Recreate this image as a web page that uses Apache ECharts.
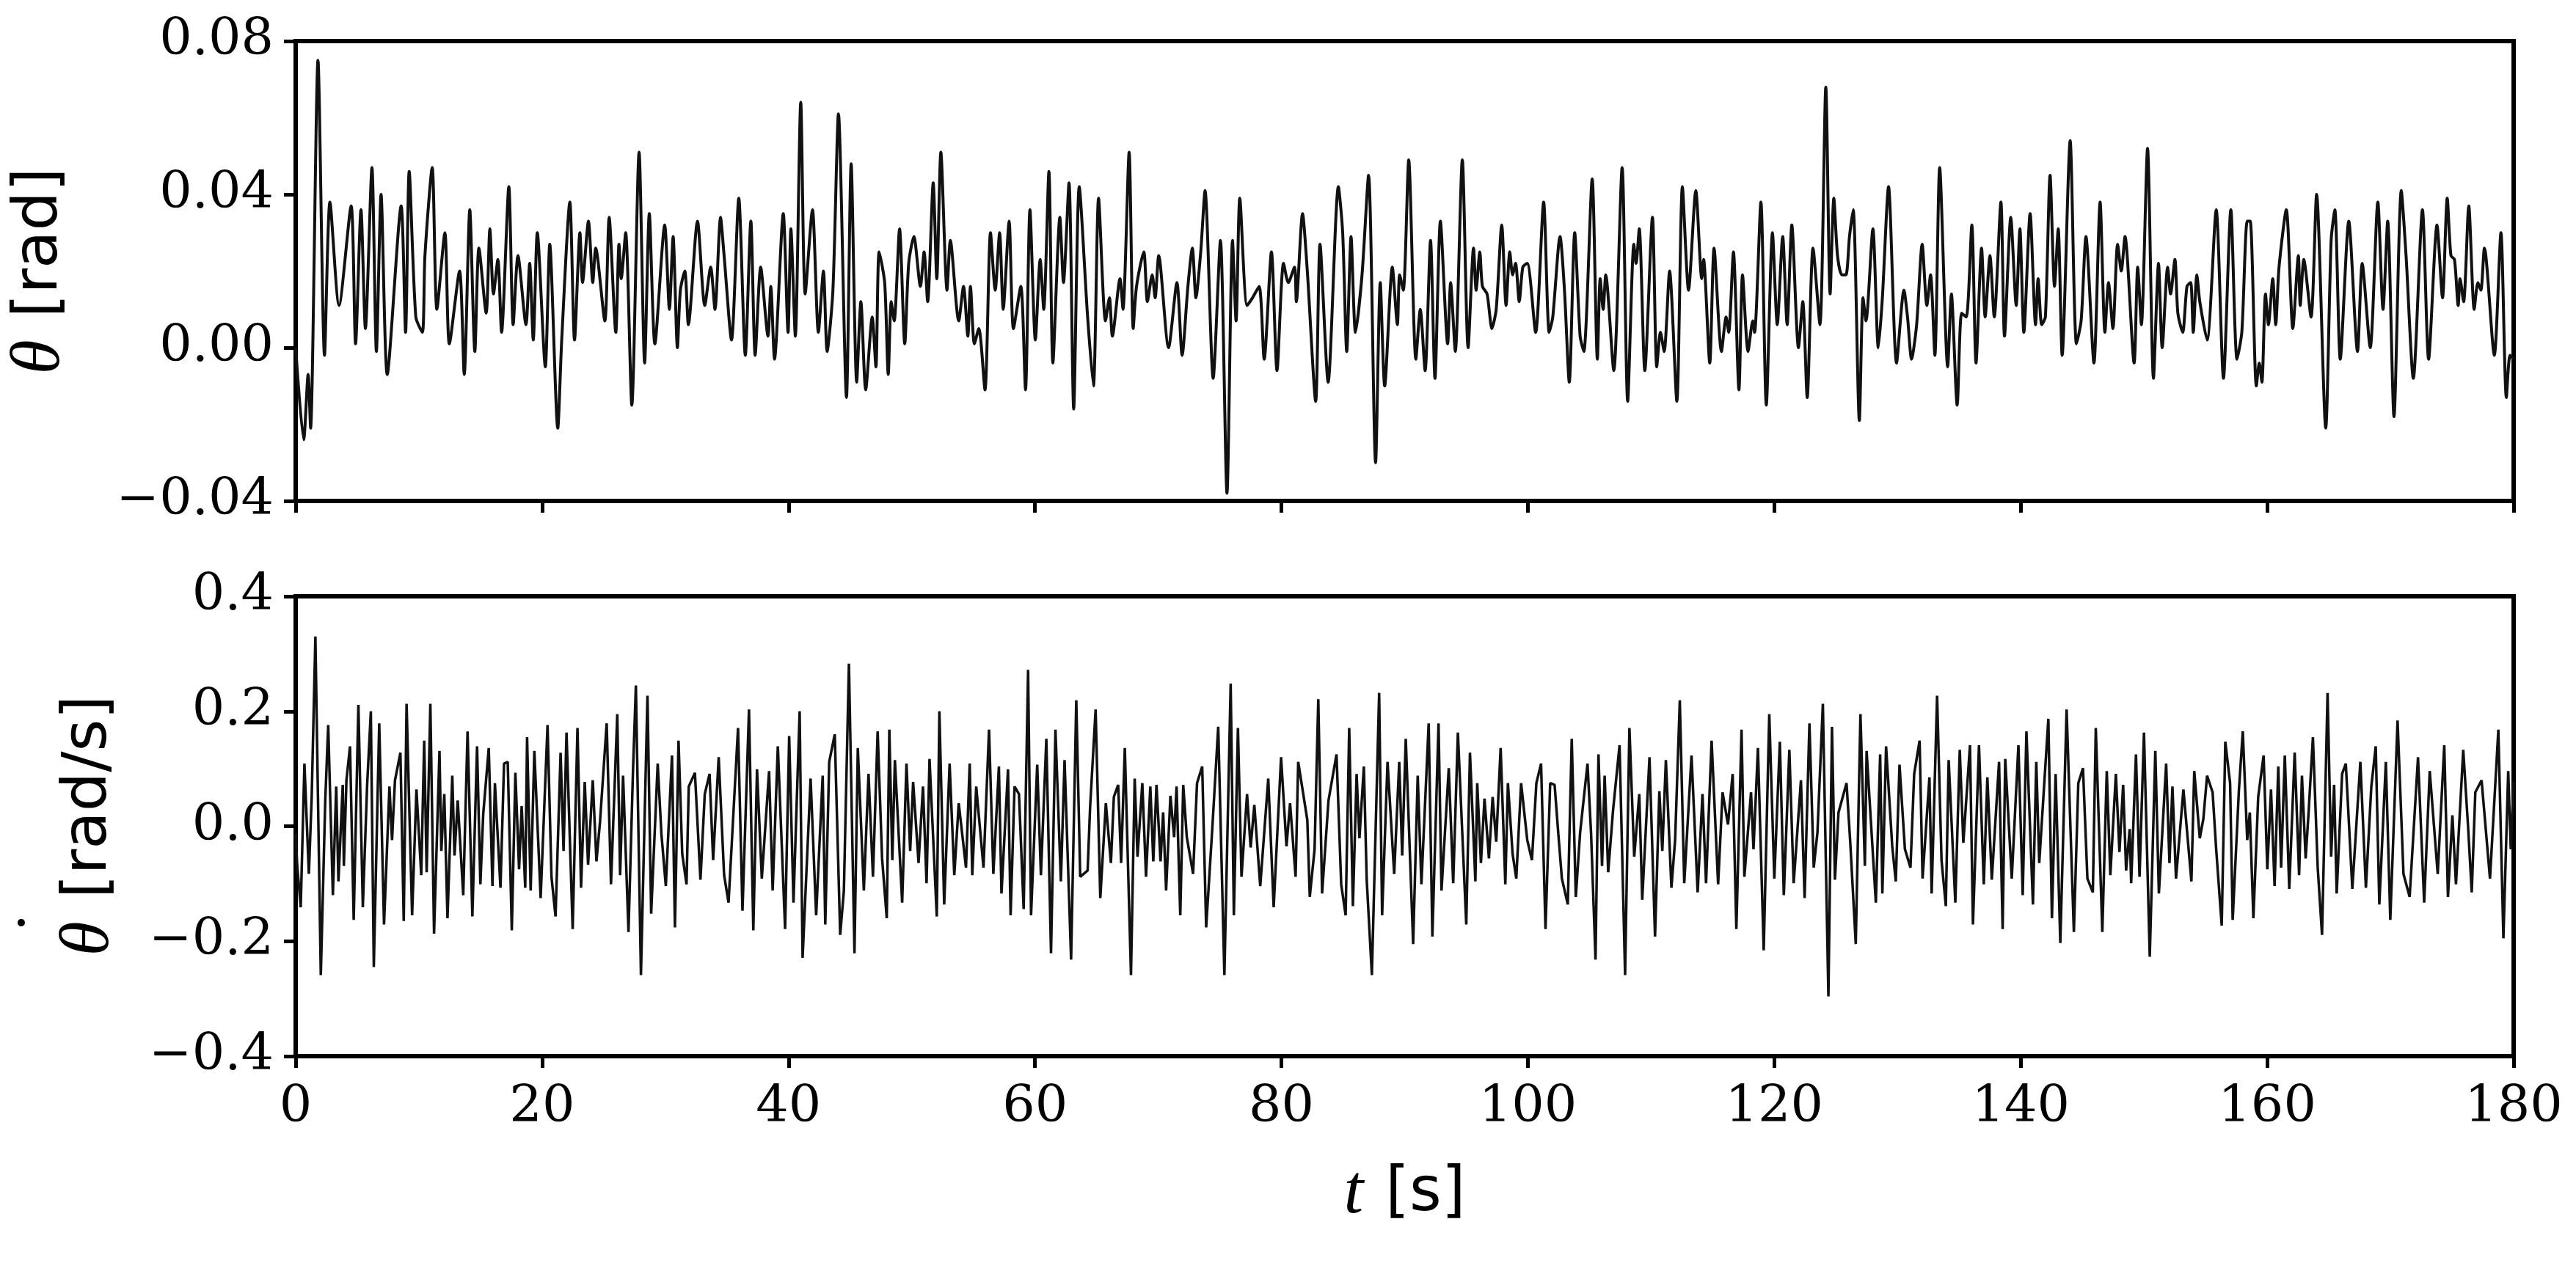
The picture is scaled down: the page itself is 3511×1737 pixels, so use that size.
<!DOCTYPE html>
<html>
<head>
<meta charset="utf-8">
<script src="https://cdn.jsdelivr.net/npm/echarts@6/dist/echarts.min.js"></script>
<style>
  html, body { margin: 0; padding: 0; background: #fff; }
  #chart1 { width: 3511px; height: 1737px; }
</style>
</head>
<body>
<div id="chart1"></div>
<script>
// theta [rad] vs t [s]
var thetaT = [0,0.65,1.01,1.21,1.81,2.34,2.78,3.52,4.50,4.86,5.30,5.66,6.19,6.55,6.93,7.43,8.56,8.92,9.21,9.75,10.28,10.49,11.08,11.46,12.11,12.47,13.30,13.68,14.13,14.54,14.87,15.46,15.76,16.05,16.41,16.71,17.30,17.65,18.04,18.69,18.99,19.28,19.61,20.26,20.62,21.27,21.59,22.25,22.63,23.07,23.28,23.76,24.11,24.35,25.09,25.44,25.98,26.24,26.42,26.78,27.28,27.87,28.32,28.70,29.15,29.95,30.33,30.63,30.98,31.22,31.58,31.87,32.61,33.20,33.68,34.03,34.48,34.77,35.37,35.96,36.49,36.94,37.29,37.74,38.33,38.56,38.86,39.57,39.96,40.19,40.55,40.99,41.35,41.94,42.42,42.83,43.13,43.60,44.05,44.70,45.08,45.53,
  45.87,46.26,46.79,47.09,47.35,47.80,48.09,48.33,48.57,49.01,49.43,49.75,50.17,50.70,51.0,51.29,51.74,52.03,52.36,52.86,53.13,53.81,54.2,54.55,54.76,55.08,55.44,55.94,56.39,56.77,57.13,57.42,57.9,58.25,58.85,59.23,59.59,60.03,60.42,60.71,61.13,61.45,62.02,62.31,62.76,63.14,63.59,64.27,64.74,65.16,65.72,66.04,66.28,66.9,67.14,67.64,67.97,68.24,68.83,69.12,69.51,69.75,70.04,70.84,71.52,71.94,72.41,72.77,73.06,73.45,73.8,74.46,75.05,75.58,76.03,76.32,76.62,77.21,77.65,78.19,78.6,79.19,79.64,80.17,80.56,81.06,81.21,81.71,82.1,82.78,83.13,83.79,84.62,84.97,85.3,85.65,86.01,86.54,87.07,87.64,88.02,88.38,89.0,89.41,89.59,89.89,90.33,
  90.91,91.27,91.66,92.1,92.46,92.9,93.49,93.73,94.11,94.68,95.15,95.59,95.8,96.1,96.31,96.69,97.08,97.43,97.88,98.23,98.53,98.76,99.0,99.3,99.59,99.95,100.63,101.28,101.73,102.02,102.61,102.97,103.36,103.8,104.24,104.54,105.22,105.64,105.87,106.11,106.32,106.97,107.65,108.1,108.6,108.78,109.04,109.49,110.11,110.46,110.76,111.06,111.5,112.09,112.54,113.04,113.63,114.11,114.26,114.76,115.11,115.71,116.09,116.3,116.68,117.13,117.42,117.87,118.25,118.4,118.91,119.35,119.85,120.24,120.68,121.04,121.42,121.96,122.31,122.67,123.14,123.7,124.18,124.53,124.83,125.13,125.48,125.81,126.1,126.4,126.9,127.2,127.44,128.0,128.44,128.77,129.27,129.92,130.52,130.81,131.14,131.55,132.0,132.38,132.68,133.03,133.42,134.07,134.37,134.84,135.2,135.58,136.03,
  136.37,136.82,137.11,137.5,137.85,138.39,138.68,139.19,139.63,139.93,140.25,140.76,141.2,141.41,141.7,142.0,142.38,142.74,143.04,143.36,144.01,144.52,144.9,145.29,145.94,146.44,146.83,147.12,147.48,147.86,148.16,148.46,149.2,149.49,149.79,150.29,150.77,151.18,151.48,151.92,152.16,152.51,152.75,153.14,153.49,153.79,154.0,154.29,154.53,155.12,155.86,156.45,157.05,157.55,157.94,158.38,158.62,159.12,159.36,159.57,159.86,160.1,160.45,160.69,160.96,161.55,162.08,162.53,162.68,162.97,163.56,164.01,164.75,165.19,165.49,165.93,166.62,167.33,167.71,168.36,168.98,169.4,169.78,170.29,170.88,171.27,171.86,172.6,173.1,173.78,174.23,174.61,174.91,175.2,175.5,175.65,175.94,176.36,176.8,177.1,177.34,177.63,178.43,178.97,179.41,179.71,180.0];
var thetaV = [0.000,-0.024,-0.007,-0.021,0.075,-0.002,0.038,0.011,0.037,0.001,0.036,0.005,0.047,-0.001,0.040,-0.007,0.037,0.004,0.046,0.008,0.004,0.024,0.047,0.010,0.030,0.001,0.020,-0.007,0.036,-0.001,0.026,0.009,0.031,0.014,0.023,0.004,0.042,0.006,0.024,0.006,0.022,0.002,0.030,-0.005,0.027,-0.021,0.002,0.038,0.002,0.030,0.017,0.033,0.017,0.026,0.007,0.034,0.004,0.027,0.018,0.030,-0.015,0.051,-0.004,0.035,0.001,0.032,0.010,0.029,0.000,0.015,0.020,0.006,0.033,0.011,0.021,0.010,0.034,0.024,0.002,0.039,-0.002,0.033,-0.002,0.021,0.003,0.016,-0.003,0.035,0.004,0.031,0.003,0.064,0.014,0.036,0.004,0.020,-0.001,0.015,0.061,-0.013,0.048,-0.009,
  0.012,-0.011,0.008,-0.005,0.025,0.017,-0.007,0.012,0.007,0.031,0.001,0.022,0.029,0.016,0.025,0.012,0.043,0.018,0.051,0.015,0.028,0.007,0.016,0.003,0.016,0.001,0.005,-0.011,0.030,0.015,0.030,0.010,0.033,0.005,0.016,-0.011,0.036,0.002,0.023,0.010,0.046,-0.004,0.034,0.017,0.043,-0.016,0.042,0.008,-0.010,0.039,0.007,0.013,0.003,0.018,0.010,0.051,0.005,0.016,0.025,0.012,0.019,0.013,0.024,0.000,0.017,-0.002,0.016,0.026,0.013,0.025,0.041,-0.008,0.028,-0.038,0.028,0.007,0.039,0.011,0.013,0.016,-0.003,0.025,-0.006,0.022,0.017,0.021,0.012,0.035,0.020,-0.014,0.027,-0.009,0.042,0.030,-0.001,0.029,0.004,0.019,0.045,-0.030,0.017,-0.010,0.021,0.006,0.019,0.015,0.049,
  -0.003,0.010,-0.006,0.028,-0.008,0.033,0.001,0.017,-0.001,0.049,0.000,0.026,0.015,0.025,0.016,0.014,0.005,0.010,0.032,0.011,0.025,0.019,0.022,0.012,0.021,0.022,0.004,0.038,0.004,0.008,0.029,0.015,-0.009,0.030,0.003,-0.001,0.044,-0.003,0.018,0.010,0.019,-0.006,0.047,-0.014,0.027,0.022,0.031,-0.006,0.034,-0.005,0.004,-0.001,0.020,-0.014,0.042,0.015,0.041,0.018,0.023,-0.004,0.026,-0.001,0.008,0.004,0.025,-0.011,0.019,-0.001,0.007,0.004,0.038,-0.015,0.030,0.006,0.029,0.006,0.032,0.000,0.012,-0.013,0.026,0.006,0.068,0.014,0.039,0.024,0.019,0.019,0.029,0.036,-0.019,0.013,0.007,0.031,0.000,0.013,0.042,-0.004,0.015,0.008,-0.003,0.006,0.027,0.011,0.019,-0.002,0.047,-0.005,0.014,-0.015,0.009,0.008,0.032,
  -0.004,0.026,0.008,0.024,0.008,0.038,0.003,0.034,0.011,0.031,0.004,0.035,0.006,0.018,0.006,0.008,0.045,0.016,0.031,-0.002,0.054,0.001,0.007,0.029,-0.004,0.038,0.004,0.017,0.005,0.027,0.020,0.029,-0.004,0.021,0.006,0.052,-0.008,0.022,0.000,0.021,0.014,0.023,0.009,0.004,0.016,0.017,0.004,0.019,0.012,0.002,0.036,-0.008,0.036,-0.003,0.004,0.033,0.033,-0.010,-0.004,-0.009,0.014,0.006,0.018,0.006,0.021,0.036,0.005,0.024,0.011,0.023,0.008,0.040,-0.021,0.028,0.036,-0.003,0.033,-0.001,0.022,0.000,0.038,0.010,0.033,-0.018,0.041,0.024,-0.008,0.036,-0.003,0.032,0.013,0.039,0.024,0.023,0.011,0.018,0.012,0.037,0.010,0.017,0.015,0.026,-0.002,0.030,-0.013,-0.002,-0.003];

// theta-dot [rad/s] vs t [s]
var rateT = [0,0.12,0.41,0.71,1.07,1.3,1.6,2.04,2.4,2.64,3.02,3.29,3.47,3.82,3.91,4.12,4.41,4.71,5.09,5.45,5.8,6.1,6.34,6.78,7.17,7.61,7.82,8.06,8.5,8.77,9.0,9.45,9.8,10.19,10.43,10.63,10.93,11.23,11.67,11.82,12.06,12.32,12.71,12.89,13.15,13.6,13.95,14.34,14.72,14.99,15.22,15.67,15.97,16.17,16.62,16.91,17.21,17.54,17.83,18.13,18.34,18.63,18.78,19.07,19.37,19.88,20.44,20.76,21.09,21.5,21.74,21.98,22.48,22.87,23.16,23.46,23.73,24.11,24.41,24.7,25.24,25.59,26.1,26.33,26.57,27.01,27.37,27.61,28.02,28.55,28.85,29.38,29.68,30.04,30.54,30.78,31.07,31.37,31.72,31.9,32.4,32.85,33.2,33.59,33.88,34.33,34.77,35.13,35.9,36.26,36.79,37.14,37.44,37.83,38.42,38.71,39.13,39.72,40.05,40.4,40.9,41.14,41.79,42.24,42.77,42.98,43.3,43.75,44.19,44.49,44.9,45.35,45.62,
  46.11,46.49,46.85,47.23,47.59,47.97,48.18,48.42,48.63,49.22,49.57,49.87,50.11,50.55,50.91,51.2,51.44,52.03,52.24,52.63,53.07,53.45,53.81,54.4,54.7,54.91,55.23,55.82,56.27,56.62,57.07,57.28,57.81,58.02,58.34,58.7,59.08,59.44,59.68,60.18,60.48,60.92,61.3,61.66,62.1,62.4,62.93,63.35,63.67,64.27,64.47,64.92,65.3,65.75,66.16,66.4,66.75,66.99,67.29,67.79,68.09,68.32,68.71,69.01,69.36,69.6,69.86,70.19,70.4,70.64,70.99,71.29,71.49,71.79,72.03,72.32,72.83,73.15,73.57,73.89,74.4,74.87,75.37,75.88,76.14,76.47,76.76,77.21,77.5,77.8,78.28,78.93,79.37,79.97,80.41,80.7,81.15,81.36,82.1,82.3,82.69,82.99,83.3,83.82,84.47,84.85,85.21,85.5,85.8,86.1,86.33,86.69,86.92,87.34,87.93,88.17,88.61,89.15,89.56,89.8,90.09,90.69,
  91.06,91.36,91.95,92.25,92.75,92.99,93.58,93.94,94.32,95.0,95.3,95.74,95.89,96.19,96.48,96.84,97.14,97.43,97.79,98.17,98.38,98.76,99.06,99.45,99.95,100.33,100.69,101.07,101.43,101.81,102.17,102.47,102.76,103.24,103.56,103.89,104.24,104.84,105.13,105.49,105.73,106.02,106.23,106.52,106.91,107.44,107.89,108.24,108.63,109.04,109.28,109.87,110.32,110.67,110.91,111.2,111.65,111.95,112.33,112.69,113.28,113.78,114.17,114.46,114.91,115.44,115.8,116.24,116.62,116.92,117.34,117.57,118.11,118.31,118.67,119.14,119.59,120.0,120.45,120.77,121.22,121.57,122.16,122.46,122.85,123.2,123.5,123.94,124.39,124.68,124.92,125.21,125.86,126.16,126.61,126.99,127.35,127.49,128.24,128.59,128.77,129.07,129.57,129.86,130.16,130.6,131.05,131.35,131.79,132.03,132.59,132.77,133.21,133.57,133.92,134.15,134.69,135.05,135.34,135.88,136.12,
  136.61,137.0,137.29,137.65,138.24,138.53,138.74,139.27,139.81,140.16,140.46,140.99,141.26,141.5,142.24,142.53,142.83,143.21,143.72,144.31,144.67,145.05,145.41,145.85,146.09,146.62,146.98,147.27,147.72,148.01,148.31,148.55,148.84,148.96,149.35,149.64,150.0,150.47,150.92,151.21,151.8,152.07,152.31,152.6,153.2,153.85,154.08,154.53,154.82,155.12,155.57,155.86,156.31,156.6,156.99,157.2,157.7,158.02,158.38,158.59,158.88,159.27,159.71,160.01,160.31,160.6,160.9,161.13,161.43,161.79,162.23,162.59,162.82,163.12,163.36,163.71,164.1,164.45,164.9,165.19,165.43,165.64,166.08,166.38,166.91,167.56,168.01,168.45,168.81,169.1,169.63,169.99,170.58,171.06,171.56,172.24,172.74,173.19,173.84,174.37,174.67,175.03,175.32,175.91,176.3,176.6,176.89,177.4,178.08,178.76,179.17,179.56,179.77,180.0];
var rateV = [-0.013,-0.067,-0.141,0.109,-0.083,0.051,0.330,-0.259,0.045,0.176,-0.120,0.069,-0.096,0.072,-0.069,0.080,0.139,-0.163,0.211,-0.141,0.072,0.200,-0.245,0.179,-0.171,0.069,-0.024,0.080,0.128,-0.165,0.213,-0.155,0.064,-0.085,0.149,-0.080,0.213,-0.187,0.131,-0.043,0.056,-0.160,0.088,-0.051,0.045,-0.120,0.165,-0.157,0.139,-0.101,0.021,0.136,-0.104,0.075,-0.107,0.109,0.112,-0.181,0.093,-0.075,0.035,-0.107,0.155,-0.112,0.131,-0.125,0.176,-0.088,-0.157,0.128,-0.043,0.163,-0.179,0.171,-0.107,0.077,-0.067,0.080,-0.061,0.008,0.179,-0.101,0.195,-0.085,0.088,-0.184,0.093,0.245,-0.259,0.227,-0.152,0.109,-0.013,-0.104,0.123,-0.176,0.149,-0.048,-0.101,0.069,0.093,-0.093,0.056,0.091,-0.059,0.120,-0.085,-0.133,0.171,-0.147,0.203,-0.181,0.099,-0.091,0.096,-0.112,0.139,-0.179,0.157,-0.133,0.200,-0.229,0.083,-0.155,0.088,-0.171,0.112,0.160,-0.189,-0.112,0.283,-0.221,0.136,
  -0.112,0.091,-0.088,0.165,-0.056,-0.160,0.168,-0.059,0.115,-0.133,0.109,-0.043,0.077,-0.064,0.069,-0.099,0.117,-0.157,0.200,-0.136,0.109,-0.085,0.040,-0.072,0.109,-0.085,0.069,-0.072,0.168,-0.083,0.104,-0.117,0.099,-0.155,0.069,0.056,-0.144,0.272,-0.155,0.107,-0.085,0.152,-0.221,0.168,-0.096,0.115,-0.232,0.219,-0.088,-0.077,0.032,0.203,-0.125,0.040,-0.064,0.051,0.072,-0.064,0.136,-0.259,0.083,-0.053,0.075,-0.088,0.069,-0.061,0.072,-0.061,0.024,-0.112,0.053,-0.019,0.069,-0.155,0.072,-0.019,-0.083,0.075,0.104,-0.176,0.000,0.173,-0.259,0.248,-0.155,0.171,-0.088,0.056,-0.037,0.037,-0.104,0.083,-0.141,0.120,-0.035,0.040,-0.088,0.112,0.011,-0.123,-0.040,0.221,-0.117,0.045,0.125,-0.101,-0.155,0.171,-0.139,0.091,-0.021,0.104,-0.093,-0.259,0.232,-0.155,0.112,-0.083,0.112,-0.051,0.152,-0.205,
  0.088,-0.101,0.179,-0.192,0.179,-0.112,0.101,-0.099,0.163,-0.171,0.128,-0.096,0.075,-0.064,0.048,-0.056,0.051,-0.027,0.136,-0.101,0.075,-0.048,-0.091,0.075,-0.024,-0.059,0.075,0.109,-0.179,0.075,0.072,-0.013,-0.091,-0.136,0.152,-0.123,-0.011,0.109,-0.013,-0.232,0.125,-0.069,0.088,-0.080,0.027,0.141,-0.259,0.171,-0.053,0.056,-0.128,0.120,-0.192,0.061,-0.043,0.115,-0.107,-0.024,0.219,-0.099,0.123,-0.115,0.056,-0.099,0.149,-0.101,0.059,0.003,0.091,-0.179,0.168,-0.088,0.059,-0.040,0.136,-0.216,0.195,-0.091,0.147,-0.120,0.133,-0.099,0.080,-0.125,0.179,-0.072,-0.011,0.213,-0.296,0.173,-0.093,0.024,0.075,-0.027,-0.205,0.195,-0.069,0.131,-0.133,0.125,-0.117,0.139,-0.035,-0.096,0.107,-0.040,-0.072,0.091,0.149,-0.091,0.085,-0.117,0.227,-0.059,-0.139,0.115,-0.133,0.133,-0.029,0.141,-0.171,
  0.141,-0.101,0.085,-0.093,0.112,-0.179,0.117,-0.091,0.141,-0.120,0.165,-0.136,0.112,-0.064,0.187,-0.160,0.091,-0.203,0.203,-0.184,0.075,0.101,-0.091,-0.115,0.171,-0.184,0.096,-0.085,0.091,-0.045,0.072,-0.077,-0.005,-0.099,0.125,-0.088,0.163,-0.227,0.131,-0.117,0.109,-0.064,0.069,-0.091,0.064,-0.096,0.096,-0.021,0.013,0.088,0.059,-0.040,-0.173,0.147,0.075,-0.163,0.061,0.165,-0.024,0.024,-0.160,0.051,0.123,-0.075,0.064,-0.104,0.104,-0.072,0.123,-0.109,0.128,-0.085,0.088,-0.056,0.024,0.155,-0.072,-0.189,0.232,-0.053,0.072,-0.117,0.091,0.109,-0.109,0.112,-0.107,0.069,0.139,-0.136,0.112,-0.163,0.184,-0.083,-0.123,0.120,-0.133,0.096,-0.083,0.141,-0.123,0.019,-0.101,0.133,0.000,-0.115,0.059,0.080,-0.091,0.168,-0.195,0.096,-0.040,0.077];

var xTicks = [0, 20, 40, 60, 80, 100, 120, 140, 160, 180];

function pairs(ts, vs) {
  var out = [];
  for (var i = 0; i < ts.length && i < vs.length; i++) out.push([ts[i], vs[i]]);
  return out;
}

var dom = document.getElementById('chart1');
var myChart = echarts.init(dom, null, { renderer: 'canvas' });

var serif = "'DejaVu Serif', 'Liberation Serif', serif";
var sans = "'DejaVu Sans', 'Liberation Sans', sans-serif";
var mathSerif = "'Liberation Serif', serif";

function minusFmt(dec) {
  return function (v) { return v.toFixed(dec).replace('-', '\u2212'); };
}

var axisCommon = {
  axisLine: { show: true, onZero: false, lineStyle: { color: '#000', width: 6 } },
  axisTick: { show: true, inside: false, length: 16, lineStyle: { color: '#000', width: 5 } },
  splitLine: { show: false }
};

var nameRich = {
  i: { fontFamily: mathSerif, fontStyle: 'italic', fontSize: 96, color: '#000' },
  gap: { fontSize: 84, width: 30 },
  s: { fontFamily: sans, fontSize: 84, color: '#000' }
};

// theta-dot label: dot on its own short line, padded so it sits over the theta
var dotRich = {
  dd: { fontFamily: mathSerif, fontSize: 96, width: 50, align: 'center', lineHeight: 24, color: '#000', padding: [0, 0, 0, 22] },
  pad: { width: 285, lineHeight: 24 },
  i: { fontFamily: mathSerif, fontStyle: 'italic', fontSize: 96, width: 50, color: '#000', lineHeight: 96 },
  gap: { fontSize: 84, width: 30 },
  s: { fontFamily: sans, fontSize: 84, width: 277, color: '#000' }
};

option = {
  animation: false,
  backgroundColor: '#fff',
  grid: [
    { left: 403, right: 85, top: 56, height: 627, show: true, borderColor: '#000', borderWidth: 6, outerBoundsMode: 'none' },
    { left: 403, right: 85, top: 813, height: 627, show: true, borderColor: '#000', borderWidth: 6, outerBoundsMode: 'none' }
  ],
  xAxis: [
    Object.assign({}, axisCommon, {
      type: 'value', gridIndex: 0, min: xTicks[0], max: xTicks[xTicks.length - 1], interval: 20,
      axisLabel: { show: false }
    }),
    Object.assign({}, axisCommon, {
      type: 'value', gridIndex: 1, min: xTicks[0], max: xTicks[xTicks.length - 1], interval: 20,
      axisLabel: { show: true, color: '#000', fontFamily: serif, fontSize: 70, margin: 36 },
      name: '{i|t}{gap|}{s|[s]}', nameLocation: 'middle', nameGap: 140,
      nameTextStyle: { rich: nameRich }
    })
  ],
  yAxis: [
    Object.assign({}, axisCommon, {
      type: 'value', gridIndex: 0, min: -0.04, max: 0.08, interval: 0.04,
      axisLabel: { color: '#000', fontFamily: serif, fontSize: 70, margin: 30, formatter: minusFmt(2) },
      name: '{i|\u03B8}{gap|}{s|[rad]}', nameLocation: 'middle', nameGap: 300, nameRotate: 90,
      nameTextStyle: { rich: nameRich }
    }),
    Object.assign({}, axisCommon, {
      type: 'value', gridIndex: 1, min: -0.4, max: 0.4, interval: 0.2,
      axisLabel: { color: '#000', fontFamily: serif, fontSize: 70, margin: 30, formatter: minusFmt(1) },
      name: '{dd|\u02D9}{pad|}\n{i|\u03B8}{gap|}{s|[rad/s]}', nameLocation: 'middle', nameGap: 233, nameRotate: 90,
      nameTextStyle: { rich: dotRich }
    })
  ],
  series: [
    {
      type: 'line', xAxisIndex: 0, yAxisIndex: 0, showSymbol: false, smooth: 0.25,
      lineStyle: { color: '#111', width: 4 },
      data: pairs(thetaT, thetaV)
    },
    {
      type: 'line', xAxisIndex: 1, yAxisIndex: 1, showSymbol: false,
      lineStyle: { color: '#111', width: 3.5 },
      data: pairs(rateT, rateV)
    }
  ]
};

myChart.setOption(option);
window.addEventListener('resize', myChart.resize);
</script>
</body>
</html>
